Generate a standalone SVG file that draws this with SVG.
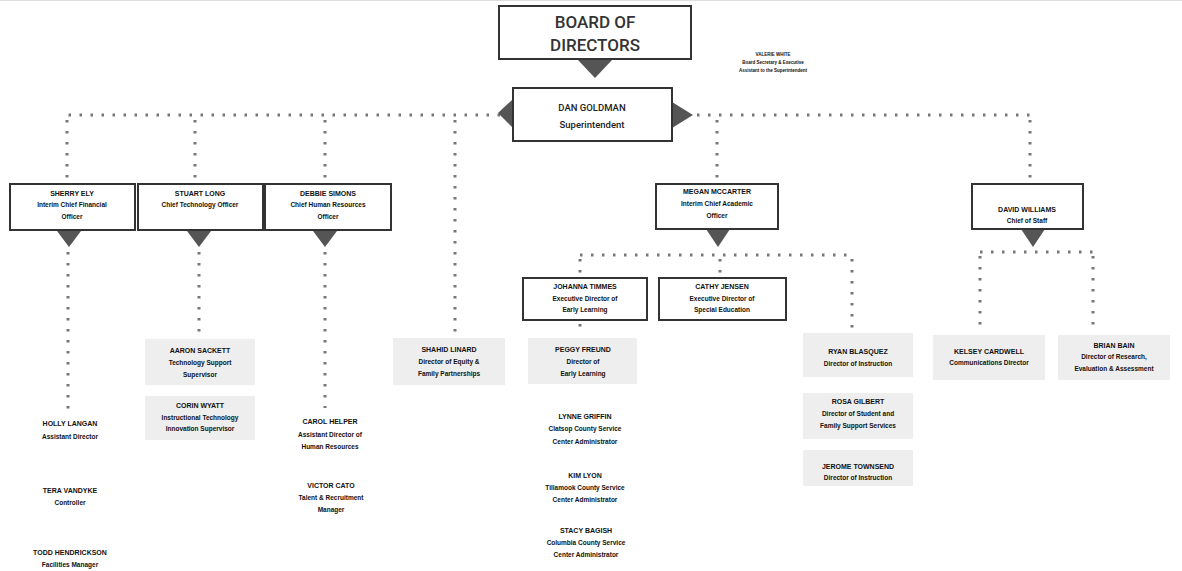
<svg xmlns="http://www.w3.org/2000/svg" width="1182" height="571" viewBox="0 0 1182 571">
<style>
.box{fill:#fff;stroke:#333;stroke-width:2}
.sbox{fill:#eeeeee;stroke:none}
.tri{fill:#555}
.dot{fill:none;stroke:#777;stroke-width:3;stroke-dasharray:2.5 8.5}
text{font-family:"Liberation Sans",Arial,sans-serif;fill:#111;text-anchor:middle}
.n{font-size:7px;font-weight:bold}
.t{font-size:6.5px;font-weight:bold}
.big{font-family:Roboto,"Liberation Sans",sans-serif;font-size:17px;font-weight:500;fill:#333}
.mid{font-family:Roboto,"Liberation Sans",sans-serif;font-size:9.5px;font-weight:500;fill:#222}
.sm{font-size:4.5px;font-weight:bold}
</style>
<rect width="1182" height="571" fill="#fff"/>
<line x1="0" y1="0.5" x2="1182" y2="0.5" stroke="#ddd" stroke-width="1"/>
<g id="connectors">
<path class="dot" d="M500 115H67M67 120V184M195 120V184M325 120V184M455 120V332"/>
<path class="dot" d="M697 115H1030M717 120V183M1030 120V183"/>
<path class="dot" d="M68 252V410M199 252V336M325 252V408"/>
<path class="dot" d="M580 255H852M580 259V276M720 259V276M852 259V334M580 324V333"/>
<path class="dot" d="M980 252H1093M980 256V332M1093 256V332"/>
<polygon class="tri" points="578,60 612,60 595,78"/>
<polygon class="tri" points="512,100 512,127 498,113"/>
<polygon class="tri" points="672,102 672,128 693,115"/>
<polygon class="tri" points="57,231 81,231 69,247"/>
<polygon class="tri" points="187,231 211,231 199,247"/>
<polygon class="tri" points="313,231 337,231 325,247"/>
<polygon class="tri" points="706,229 730,229 718,247"/>
<polygon class="tri" points="1021,229 1045,229 1033,247"/>
</g>
<g id="board"><rect class="box" x="499" y="6" width="192" height="53"/><text class="big" x="595" y="28">BOARD OF</text><text class="big" x="595" y="51">DIRECTORS</text></g>
<g id="valerie"><text class="sm" x="773" y="56">VALERIE WHITE</text><text class="sm" x="773" y="64">Board Secretary &amp; Executive</text><text class="sm" x="773" y="72">Assistant to the Superintendent</text></g>
<g id="dan"><rect class="box" x="513" y="88" width="159" height="53"/><text class="mid" x="592" y="111">DAN GOLDMAN</text><text class="mid" x="592" y="128">Superintendent</text></g>
<g id="sherry"><rect class="box" x="10" y="184" width="125" height="46"/><text class="n" x="72" y="196">SHERRY ELY</text><text class="t" x="72" y="207">Interim Chief Financial</text><text class="t" x="72" y="219">Officer</text></g>
<g id="stuart"><rect class="box" x="138" y="184" width="125" height="46"/><text class="n" x="200" y="196">STUART LONG</text><text class="t" x="200" y="207">Chief Technology Officer</text></g>
<g id="debbie"><rect class="box" x="265" y="184" width="126" height="46"/><text class="n" x="328" y="196">DEBBIE SIMONS</text><text class="t" x="328" y="207">Chief Human Resources</text><text class="t" x="328" y="219">Officer</text></g>
<g id="megan"><rect class="box" x="656" y="184" width="122" height="45"/><text class="n" x="717" y="194">MEGAN MCCARTER</text><text class="t" x="717" y="206">Interim Chief Academic</text><text class="t" x="717" y="218">Officer</text></g>
<g id="david"><rect class="box" x="972" y="184" width="111" height="45"/><text class="n" x="1027" y="212">DAVID WILLIAMS</text><text class="t" x="1027" y="223">Chief of Staff</text></g>
<g id="johanna"><rect class="box" x="523" y="278" width="124" height="42"/><text class="n" x="585" y="289">JOHANNA TIMMES</text><text class="t" x="585" y="301">Executive Director of</text><text class="t" x="585" y="312">Early Learning</text></g>
<g id="cathy"><rect class="box" x="659" y="278" width="127" height="42"/><text class="n" x="722" y="289">CATHY JENSEN</text><text class="t" x="722" y="301">Executive Director of</text><text class="t" x="722" y="312">Special Education</text></g>
<g id="holly"><text class="n" x="70" y="426">HOLLY LANGAN</text><text class="t" x="70" y="439">Assistant Director</text></g>
<g id="tera"><text class="n" x="70" y="493">TERA VANDYKE</text><text class="t" x="70" y="505">Controller</text></g>
<g id="todd"><text class="n" x="70" y="555">TODD HENDRICKSON</text><text class="t" x="70" y="567">Facilities Manager</text></g>
<g id="aaron"><rect class="sbox" x="145" y="339" width="110" height="46"/><text class="n" x="200" y="353">AARON SACKETT</text><text class="t" x="200" y="365">Technology Support</text><text class="t" x="200" y="377">Supervisor</text></g>
<g id="corin"><rect class="sbox" x="145" y="396" width="110" height="44"/><text class="n" x="200" y="408">CORIN WYATT</text><text class="t" x="200" y="420">Instructional Technology</text><text class="t" x="200" y="431">Innovation Supervisor</text></g>
<g id="carol"><text class="n" x="330" y="424">CAROL HELPER</text><text class="t" x="330" y="437">Assistant Director of</text><text class="t" x="330" y="449">Human Resources</text></g>
<g id="victor"><text class="n" x="331" y="488">VICTOR CATO</text><text class="t" x="331" y="500">Talent &amp; Recruitment</text><text class="t" x="331" y="512">Manager</text></g>
<g id="shahid"><rect class="sbox" x="393" y="338" width="112" height="47"/><text class="n" x="449" y="352">SHAHID LINARD</text><text class="t" x="449" y="364">Director of Equity &amp;</text><text class="t" x="449" y="376">Family Partnerships</text></g>
<g id="peggy"><rect class="sbox" x="528" y="338" width="109" height="46"/><text class="n" x="583" y="352">PEGGY FREUND</text><text class="t" x="583" y="364">Director of</text><text class="t" x="583" y="376">Early Learning</text></g>
<g id="lynne"><text class="n" x="585" y="419">LYNNE GRIFFIN</text><text class="t" x="585" y="431">Clatsop County Service</text><text class="t" x="585" y="444">Center Administrator</text></g>
<g id="kim"><text class="n" x="585" y="478">KIM LYON</text><text class="t" x="585" y="490">Tillamook County Service</text><text class="t" x="585" y="502">Center Administrator</text></g>
<g id="stacy"><text class="n" x="586" y="533">STACY BAGISH</text><text class="t" x="586" y="545">Columbia County Service</text><text class="t" x="586" y="557">Center Administrator</text></g>
<g id="ryan"><rect class="sbox" x="803" y="333" width="110" height="44"/><text class="n" x="858" y="354">RYAN BLASQUEZ</text><text class="t" x="858" y="366">Director of Instruction</text></g>
<g id="rosa"><rect class="sbox" x="803" y="393" width="110" height="46"/><text class="n" x="858" y="404">ROSA GILBERT</text><text class="t" x="858" y="416">Director of Student and</text><text class="t" x="858" y="428">Family Support Services</text></g>
<g id="jerome"><rect class="sbox" x="803" y="450" width="110" height="36"/><text class="n" x="858" y="469">JEROME TOWNSEND</text><text class="t" x="858" y="480">Director of Instruction</text></g>
<g id="kelsey"><rect class="sbox" x="933" y="335" width="112" height="45"/><text class="n" x="989" y="354">KELSEY CARDWELL</text><text class="t" x="989" y="365">Communications Director</text></g>
<g id="brian"><rect class="sbox" x="1058" y="335" width="112" height="45"/><text class="n" x="1114" y="348">BRIAN BAIN</text><text class="t" x="1114" y="359">Director of Research,</text><text class="t" x="1114" y="371">Evaluation &amp; Assessment</text></g>
</svg>
